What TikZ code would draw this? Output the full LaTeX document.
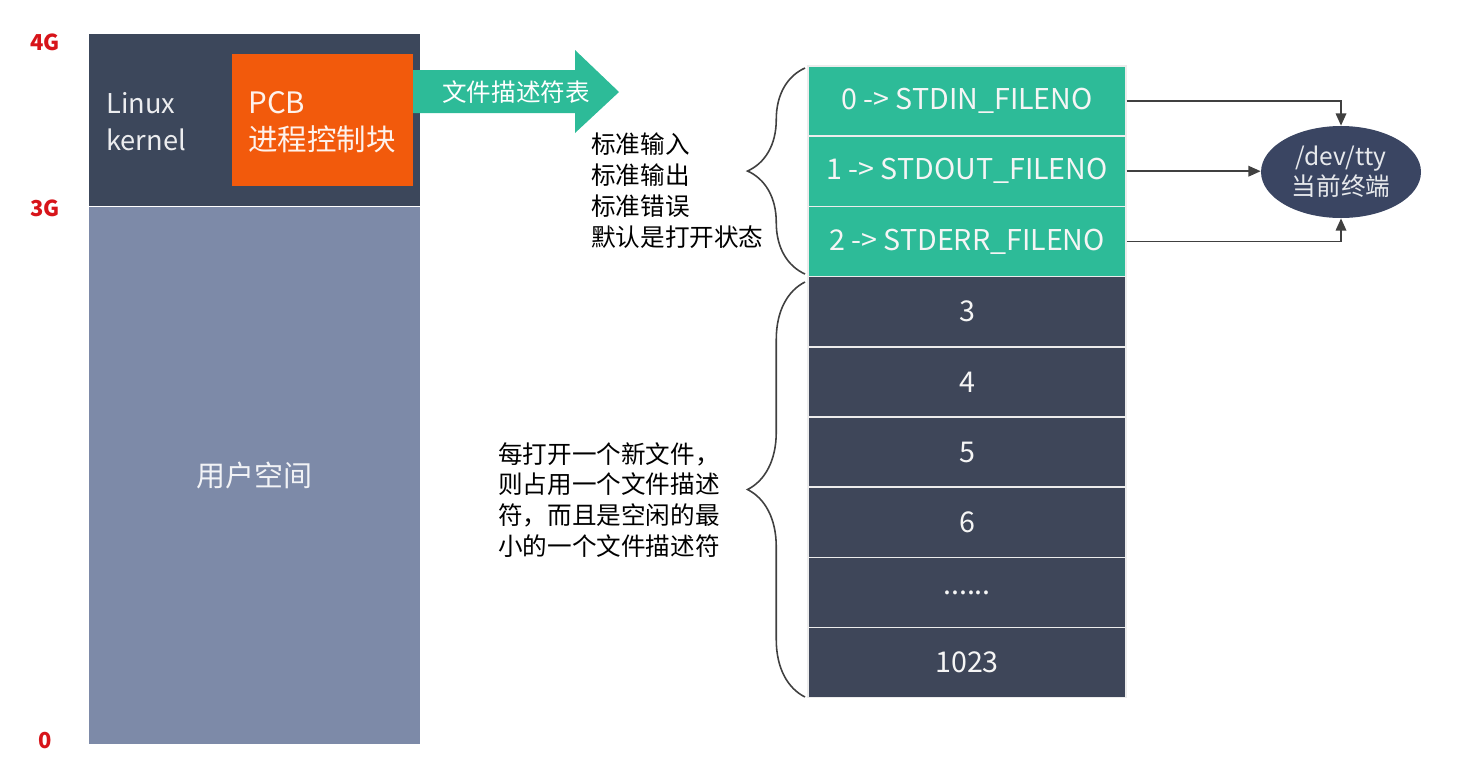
\documentclass[tikz,border=0pt]{standalone}
\usepackage{fontspec}
\setmainfont{Noto Sans CJK SC}
\usepackage{tikz}
\usetikzlibrary{positioning, shapes.geometric, arrows.meta, decorations.pathreplacing}
\definecolor{kernelbg}{HTML}{3C475B}
\definecolor{userbg}{HTML}{7D8AA8}
\definecolor{pcbbg}{HTML}{F25A0C}
\definecolor{fdgreen}{HTML}{2DBB98}
\definecolor{fddark}{HTML}{3E4659}
\definecolor{ttybg}{HTML}{3A4562}
\definecolor{addrred}{HTML}{D7141A}
\definecolor{linkgray}{HTML}{404040}
\newcommand{\sixdots}{......}

\begin{document}
\begin{tikzpicture}[x=0.02cm, y=-0.02cm,
    block/.style={draw=none, inner sep=0pt},
    fdrow/.style={draw=white!85!gray, line width=0.8pt, minimum width=6.36cm,
        minimum height=1.4cm, inner sep=0pt, text=white!92!gray,
        font=\fontsize{16.3}{18}\selectfont},
    addr/.style={text=addrred, font=\bfseries\fontsize{12.5}{14}\selectfont},
    note/.style={align=left, anchor=west, inner sep=0pt,
        font=\fontsize{14}{17.6}\selectfont},
    link/.style={draw=linkgray, line width=1pt, -{Triangle[length=7pt, width=6pt]}},
    curly/.style={draw=black!75, line width=0.9pt, decorate,
        decoration={brace, amplitude=1.15cm}}]

\useasboundingbox (0,0) rectangle (1463,772);

% address space
\node[block, fill=kernelbg, minimum width=6.62cm, minimum height=3.44cm, anchor=north west] (kernel) at (89,34) {};
\node[block, fill=userbg, minimum width=6.62cm, minimum height=10.74cm, anchor=north, text=white!90!userbg,
    font=\fontsize{16.5}{20}\selectfont] (user) at (kernel.south) {用户空间};
\node[block, fill=pcbbg, minimum width=3.62cm, minimum height=2.64cm, anchor=north west] (pcb) at (232,54) {};
\node[note, text=white!90!kernelbg, font=\fontsize{15.5}{21}\selectfont] (kname) at (106,122) {Linux\\kernel};
\node[note, text=white!92!pcbbg, font=\fontsize{16.8}{21}\selectfont] (pname) at (248,122) {PCB\\进程控制块};

\node[addr] (a4) at (45,42) {4G};
\node[addr] (a3) at (45,208) {3G};
\node[addr] (a0) at (45,741) {0};

% big arrow to the table
\fill[fdgreen] (413,70) -- (575,70) -- (575,50) -- (619,92) -- (575,133) -- (575,113) -- (413,113) -- cycle;
\node[text=white, font=\fontsize{14}{17}\selectfont] (fdtitle) at (516,92) {文件描述符表};

% file descriptor table
\foreach \txt/\col [count=\i from 0] in {0 -> STDIN\_FILENO/fdgreen, 1 -> STDOUT\_FILENO/fdgreen,
    2 -> STDERR\_FILENO/fdgreen, 3/fddark, 4/fddark, 5/fddark, 6/fddark, \sixdots/fddark, 1023/fddark}
  \node[fdrow, fill=\col] (r\i) at (967,{101+70.2*\i}) {\txt};

\node[ellipse, fill=ttybg, minimum width=3.2cm, minimum height=1.84cm, inner sep=0pt, align=center,
    text=white!88!ttybg, font=\fontsize{14}{17}\selectfont] (tty) at (1341,172) {/dev/tty\\当前终端};

\draw[link] (r0.east) -| (tty.north);
\draw[link] (r1.east) -- (r1.east -| tty.west);
\draw[link] (r2.east) -| (tty.south);

% braces and notes
\draw[curly] (805,274) -- (805,68);
\draw[curly] (805,697) -- (805,282);
\node[note] (stdnote) at (591,191) {标准输入\\标准输出\\标准错误\\默认是打开状态};
\node[note] (newnote) at (498,500) {每打开一个新文件，\\则占用一个文件描述\\符，而且是空闲的最\\小的一个文件描述符};
\end{tikzpicture}
\end{document}
